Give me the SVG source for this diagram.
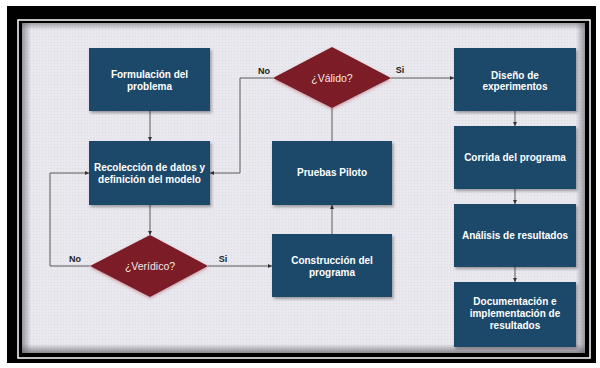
<svg xmlns="http://www.w3.org/2000/svg" width="600" height="368" viewBox="0 0 600 368">
<defs>
<style>
.box{fill:#1b4869;}
.dia{fill:#7b1c27;}
.t{font-family:"Liberation Sans",Arial,sans-serif;font-size:10px;font-weight:bold;fill:#ffffff;text-anchor:middle;}
.q{font-family:"Liberation Sans",Arial,sans-serif;font-size:10.5px;fill:#f4e8e8;text-anchor:middle;}
.lbl{font-family:"Liberation Sans",Arial,sans-serif;font-size:9px;font-weight:bold;fill:#222222;text-anchor:middle;}
.c{fill:none;stroke:#5a5a5a;stroke-width:1;}
</style>
<marker id="ah" viewBox="0 0 6 6" refX="6" refY="3" markerWidth="4" markerHeight="4" orient="auto">
<path d="M0,0 L6,3 L0,6 z" fill="#333333"/>
</marker>
<filter id="sh" x="-10%" y="-10%" width="125%" height="130%">
<feDropShadow dx="1.5" dy="2" stdDeviation="1.5" flood-color="#000000" flood-opacity="0.35"/>
</filter>
<filter id="glow" x="-10%" y="-10%" width="120%" height="125%">
<feDropShadow dx="0" dy="1.5" stdDeviation="1.5" flood-color="#b05060" flood-opacity="0.5"/>
</filter>
<pattern id="dots" width="3" height="3" patternUnits="userSpaceOnUse">
<rect width="3" height="3" fill="#e9e8ee"/>
<rect width="1" height="1" fill="#dcdbe2"/>
</pattern>
<linearGradient id="gl" x1="0" y1="0" x2="1" y2="0"><stop offset="0" stop-color="#606068" stop-opacity="0.6"/><stop offset="1" stop-color="#606068" stop-opacity="0"/></linearGradient>
<linearGradient id="gr" x1="1" y1="0" x2="0" y2="0"><stop offset="0" stop-color="#606068" stop-opacity="0.6"/><stop offset="1" stop-color="#606068" stop-opacity="0"/></linearGradient>
<linearGradient id="gt" x1="0" y1="0" x2="0" y2="1"><stop offset="0" stop-color="#606068" stop-opacity="0.5"/><stop offset="1" stop-color="#606068" stop-opacity="0"/></linearGradient>
<linearGradient id="gb" x1="0" y1="1" x2="0" y2="0"><stop offset="0" stop-color="#606068" stop-opacity="0.7"/><stop offset="1" stop-color="#606068" stop-opacity="0"/></linearGradient>
</defs>
<rect width="600" height="368" fill="#ffffff"/>
<g id="frame">
<rect x="7" y="6" width="589" height="357" fill="#000000"/>
<rect x="18" y="20" width="572" height="338" fill="none" stroke="#ffffff" stroke-width="1.5"/>
<rect x="22" y="23" width="563" height="330" fill="url(#dots)"/>
<rect x="22" y="23" width="9" height="330" fill="url(#gl)"/>
<rect x="576" y="23" width="9" height="330" fill="url(#gr)"/>
<rect x="22" y="23" width="563" height="7" fill="url(#gt)"/>
<rect x="22" y="344" width="563" height="9" fill="url(#gb)"/>
</g>
<g id="connectors">
<path class="c" d="M150,111 V141" marker-end="url(#ah)"/>
<path class="c" d="M150,205 V235" marker-end="url(#ah)"/>
<path class="c" d="M90,266 H50 V173 H89" marker-end="url(#ah)"/>
<path class="c" d="M208,266 H272" marker-end="url(#ah)"/>
<path class="c" d="M332,234 V205" marker-end="url(#ah)"/>
<path class="c" d="M332,141 V108"/>
<path class="c" d="M273,78 H240 V173 H210" marker-end="url(#ah)"/>
<path class="c" d="M391,78 H454" marker-end="url(#ah)"/>
<path class="c" d="M515,111 V126" marker-end="url(#ah)"/>
<path class="c" d="M515,189 V204" marker-end="url(#ah)"/>
<path class="c" d="M515,267 V282" marker-end="url(#ah)"/>
<text class="lbl" x="75" y="262">No</text>
<text class="lbl" x="223" y="262">Si</text>
<text class="lbl" x="264" y="74">No</text>
<text class="lbl" x="400" y="73">Si</text>
</g>
<g id="n1"><rect class="box" x="89" y="48" width="121" height="63" filter="url(#sh)"/><text class="t" x="149.5" y="78">Formulación del</text><text class="t" x="149.5" y="90">problema</text></g>
<g id="n2"><rect class="box" x="89" y="141" width="121" height="64" filter="url(#sh)"/><text class="t" x="149.5" y="171">Recolección de datos y</text><text class="t" x="149.5" y="183">definición del modelo</text></g>
<g id="d1"><polygon class="dia" points="150,235 208,266 150,297 90,266" filter="url(#glow)"/><text class="q" x="150" y="270">¿Verídico?</text></g>
<g id="n3"><rect class="box" x="272" y="234" width="120" height="63" filter="url(#sh)"/><text class="t" x="332" y="264">Construcción del</text><text class="t" x="332" y="276">programa</text></g>
<g id="n4"><rect class="box" x="272" y="141" width="120" height="64" filter="url(#sh)"/><text class="t" x="332" y="176">Pruebas Piloto</text></g>
<g id="d2"><polygon class="dia" points="332,47 391,78 332,108 273,78" filter="url(#glow)"/><text class="q" x="332" y="82">¿Válido?</text></g>
<g id="n5"><rect class="box" x="454" y="48" width="122" height="63" filter="url(#sh)"/><text class="t" x="515" y="79">Diseño de</text><text class="t" x="515" y="90">experimentos</text></g>
<g id="n6"><rect class="box" x="454" y="126" width="122" height="63" filter="url(#sh)"/><text class="t" x="515" y="161">Corrida del programa</text></g>
<g id="n7"><rect class="box" x="454" y="204" width="122" height="63" filter="url(#sh)"/><text class="t" x="515" y="239">Análisis de resultados</text></g>
<g id="n8"><rect class="box" x="454" y="282" width="122" height="65" filter="url(#sh)"/><text class="t" x="515" y="305">Documentación e</text><text class="t" x="515" y="317">implementación de</text><text class="t" x="515" y="329">resultados</text></g>
</svg>
